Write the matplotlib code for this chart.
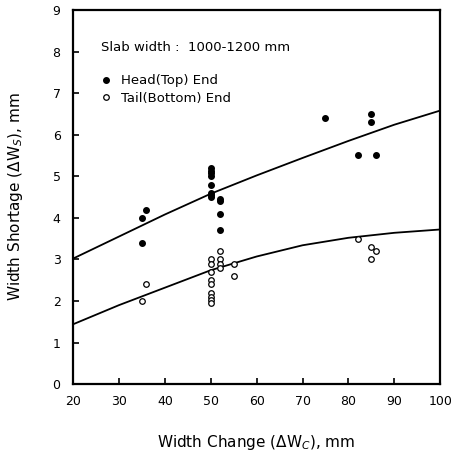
"""Width shortage vs width change, head and tail ends
"""
import matplotlib
matplotlib.use("Agg")
import matplotlib.pyplot as plt

################################################################################
head_x = [35, 36, 35, 50, 50, 50, 50, 50, 50, 50, 50,
          52, 52, 52, 52, 75, 85, 85, 82, 86]
head_y = [4.0, 4.2, 3.4, 5.2, 5.13, 5.07, 5.0, 4.8, 4.6, 4.55, 4.5,
          4.45, 4.4, 4.1, 3.7, 6.4, 6.5, 6.3, 5.5, 5.5]

tail_x = [35, 36, 50, 50, 50, 50, 50, 50, 50, 50, 50,
          52, 52, 52, 52, 55, 55, 82, 85, 85, 86]
tail_y = [2.0, 2.4, 3.0, 2.9, 2.7, 2.5, 2.4, 2.2, 2.1, 2.03, 1.96,
          3.2, 3.0, 2.9, 2.8, 2.9, 2.6, 3.5, 3.3, 3.0, 3.2]

# fitted curves
curve_x = [20, 30, 40, 50, 60, 70, 80, 90, 100]
head_fit = [3.02, 3.55, 4.08, 4.58, 5.02, 5.44, 5.85, 6.24, 6.58]
tail_fit = [1.44, 1.9, 2.32, 2.74, 3.07, 3.34, 3.52, 3.64, 3.72]
################################################################################

plt.rcParams["font.family"] = ["DejaVu Sans"]

fig = plt.figure(figsize=(4.51, 4.53), dpi=100)
ax = fig.add_axes([0.162, 0.152, 0.814, 0.826])

ax.plot(curve_x, head_fit, color="black", lw=1.3)
ax.plot(curve_x, tail_fit, color="black", lw=1.3)

ax.plot(head_x, head_y, "o", color="black", ms=4, ls="none",
        label="Head(Top) End")
ax.plot(tail_x, tail_y, "o", mfc="white", mec="black", mew=0.9, ms=4,
        ls="none", label="Tail(Bottom) End")

ax.set_xlim(20, 100)
ax.set_ylim(0, 9)
ax.set_xticks(range(20, 101, 10))
ax.set_yticks(range(0, 10))

for s in ax.spines.values():
  s.set_linewidth(1.6)
ax.tick_params(direction="in", length=4, width=1.2, labelsize=9,
               top=False, right=False)
ax.tick_params(axis="x", pad=8)
ax.tick_params(axis="y", pad=9)

ax.set_xlabel(r"Width Change ($\Delta$W$_C$), mm", fontsize=11, labelpad=18)
ax.set_ylabel(r"Width Shortage ($\Delta$W$_S$), mm", fontsize=11, labelpad=20)

ax.text(0.075, 0.89, "Slab width :  1000-1200 mm", transform=ax.transAxes,
        fontsize=9.5)
ax.legend(loc="upper left", bbox_to_anchor=(0.04, 0.86), frameon=False,
          handletextpad=0.6, labelspacing=0.35, fontsize=9.5,
          handlelength=1.0)

fig.savefig("out.png", dpi=100)
